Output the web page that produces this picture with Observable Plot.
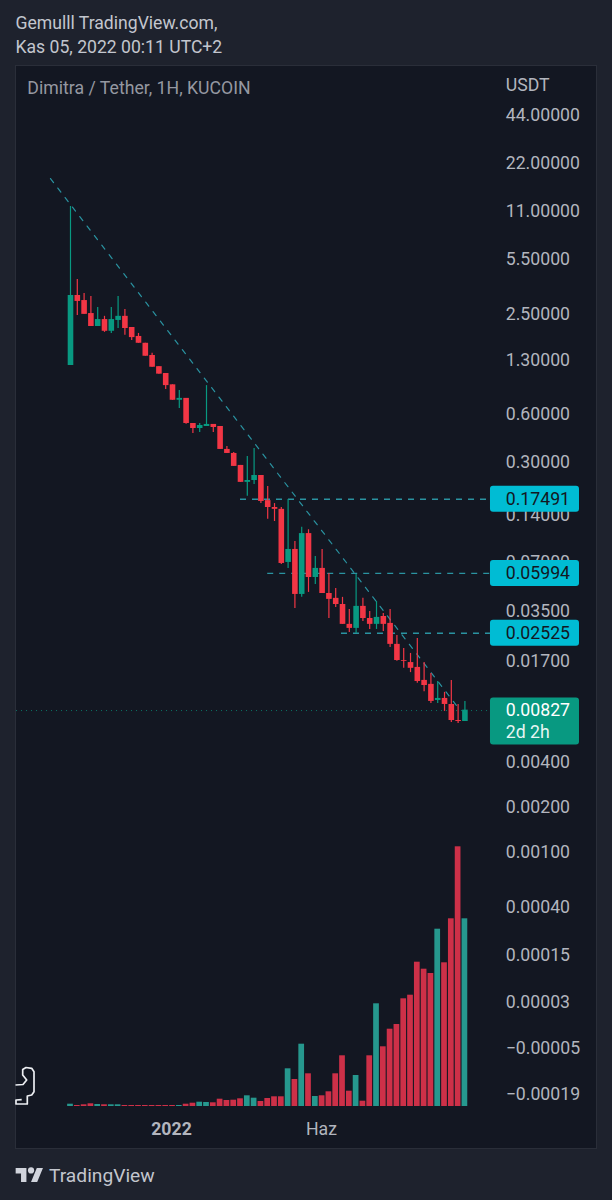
<!DOCTYPE html>
<html><head><meta charset="utf-8">
<script src="https://cdn.jsdelivr.net/npm/d3@7"></script>
<script src="https://cdn.jsdelivr.net/npm/@observablehq/plot@0.6"></script>
<style>
html,body{margin:0;padding:0;background:#1e222d;font-family:Roboto,sans-serif;}
#page{position:relative;width:612px;height:1200px;overflow:hidden;}
#head{height:65px;box-sizing:border-box;padding:11px 0 0 15.5px;color:#c3c6ce;font-size:17.6px;line-height:24px;}
#frame{position:relative;margin-left:15px;width:580px;height:1082px;background:#131722;border:1px solid #2a2e39;}
#frame svg{position:absolute;left:0;top:0;}
#foot{position:absolute;left:15px;top:1165px;display:flex;align-items:center;color:#c3c6ce;font-size:19.2px;height:20px;}
#foot svg{width:29px;height:20px;margin-right:5px;}
#cursor{position:absolute;left:0;top:1060px;}
</style></head><body>
<div id="page">
<div id="head">Gemulll TradingView.com,<br>Kas 05, 2022 00:11 UTC+2</div>
<div id="frame"></div>
<svg id="cursor" width="40" height="50" viewBox="0 1060 40 50"><path d="M15.5 1085 L23 1084.5 L26.7 1080 L22.7 1075 L22.7 1069.5 L26 1067.5 L31.7 1068.3 L34 1071.7 L34 1091.7 L31.7 1095 L27.3 1096 L27.3 1104 L16 1104 L16 1100 L21.7 1099.6" fill="none" stroke="#eceef2" stroke-width="1.7" stroke-linejoin="round"/></svg>
<div id="foot"><svg viewBox="0 0 36 26"><path fill="#d1d4dc" d="M14 22H7V11H0V4h14v18zM28 22h-8l7.5-18h8L28 22z"/><circle fill="#d1d4dc" cx="20" cy="7" r="4"/></svg><span>TradingView</span></div>
</div>
<script>
const opens  = [1.19,3.27,3.04,2.52,2.09,2.31,1.95,2.28,2.42,2.06,1.81,1.64,1.375,1.17,1.06,.90,.72,.74,.515,.479,.493,.508,.493,.354,.334,.281,.22,.226,.243,.169,.153,.149,.0692,.0835,.0436,.105,.0557,.0635,.0442,.0412,.0377,.0283,.0267,.0367,.0308,.0283,.0317,.0287,.0212,.0168,.0163,.0152,.0126,.0119,.00943,.00971,.0089,.00706,.00696];
const highs  = [11.82,4.12,3.37,3.22,2.75,2.42,2.75,3.22,2.67,2.06,1.89,1.64,1.42,1.17,1.06,.90,.83,.74,.515,.515,.89,.508,.493,.37,.339,.281,.32,.359,.243,.207,.162,.153,.172,.0937,.115,.111,.0755,.0835,.059,.0475,.0418,.0351,.0582,.0412,.0341,.0394,.0331,.0351,.0241,.02,.0186,.0231,.0163,.0139,.0124,.0106,.0126,.0089,.0093];
const lows   = [1.19,2.45,2.49,2.09,2.09,1.92,1.89,2.03,1.84,1.71,1.64,1.36,1.16,1.05,.84,.72,.64,.51,.446,.452,.493,.452,.354,.334,.277,.22,.18,.213,.162,.129,.125,.0672,.0635,.0356,.0418,.0449,.0504,.0442,.0308,.0361,.0283,.0252,.0248,.0295,.0263,.0263,.0255,.0203,.0166,.015,.0141,.0121,.0107,.00903,.00903,.00805,.00686,.00677,.00696];
const closes = [3.27,3.0,2.49,2.09,2.31,1.95,2.31,2.42,2.03,1.78,1.64,1.36,1.16,1.05,.89,.72,.74,.515,.479,.50,.508,.486,.354,.334,.277,.22,.226,.243,.167,.153,.149,.0682,.0835,.0436,.105,.0557,.0635,.0442,.0406,.0377,.0283,.0267,.0367,.0308,.0283,.0313,.0283,.0212,.0168,.0166,.015,.0124,.0117,.0093,.00971,.0089,.00706,.00696,.0082];
const volumes = [2.3,1,1.7,2.7,2,1.7,1.7,1.7,1,1,1,1,1,1,1,1,1,2.3,3.3,4.3,4,3.7,7.3,6,6.3,7.7,10.7,8.3,5,8,9.7,9.7,37.7,27,62.3,32.7,10,10.7,14.7,32.7,50.7,15.3,31,5.3,50.7,102.7,59.7,77.3,82,107.7,111.3,144.3,137.3,133,177.3,143.7,187.7,259.7,187.7];

const tickLabels = ["44.00000","22.00000","11.00000","5.50000","2.50000","1.30000","0.60000","0.30000","0.14000","0.07000","0.03500","0.01700","0.00400","0.00200","0.00100","0.00040","0.00015","0.00003","\u22120.00005","\u22120.00019"];
const tickLevels = [44.6,22.3,11.15,5.58,2.54,1.3,0.6,0.3,0.138,0.07,0.0345,0.01675,0.00394,0.00203,0.00107,0.000479,0.00024,0.000123,0.0000625,0.0000322];

const trendX = [-2.94,56.76];
const trendY = [17.7,0.00877];

const levelPrices = [0.17491,0.05994,0.02525];
const levelStarts = [25,29,39.85];
const levelTexts = ["0.17491","0.05994","0.02525"];
const lastPrice = 0.00827;
const lastText = "0.00827";
const countdownText = "2d 2h";
const countdownLevel = 0.00594;
const lastChipLevel = 0.00706;
const boldLabel = {t:"2022",x:14.85};
const plainLabel = {t:"Haz",x:36.9};

const red="#f23645", green="#089981", redVol="#cd3048", greenVol="#26988e", cyan="#00bcd4", dash="#2a93a1";
const candles = opens.map((o,i)=>({i,o,h:highs[i],l:lows[i],c:closes[i],v:volumes[i],up:closes[i]>=o}));
const ticks = tickLabels.map((t,i)=>({t,y:tickLevels[i]}));
const levels = levelPrices.map((y,i)=>({y,s:levelStarts[i],t:levelTexts[i]}));
const trend = trendX.map((x,i)=>({x,y:trendY[i]}));

const W=580,H=1082;
const xScale={domain:[-7.94,77.35],axis:null};
const axisX=64.0, chipL=61.76, chipR=74.85;
const font="Roboto", fs=17.7;
const band=(px)=>2**(px/48); // price ratio of a chip half-height on this log axis

const price=Plot.plot({
  width:W,height:H,marginTop:0,marginBottom:0,marginLeft:0,marginRight:0,
  style:{background:"transparent",fontFamily:font},
  x:xScale,
  y:{type:"log",domain:[1.46e-5,89.3],axis:null},
  marks:[
    Plot.ruleY([lastPrice],{x1:-7.94,x2:chipL,stroke:green,strokeOpacity:0.7,strokeDasharray:"1,4",dy:1}),
    Plot.line(trend,{x:"x",y:"y",stroke:dash,strokeDasharray:"5,7",strokeWidth:1.2}),
    Plot.ruleY(levels,{x1:"s",x2:chipL,y:"y",stroke:dash,strokeWidth:1.3,strokeDasharray:"6,6",dy:1}),
    Plot.ruleX(candles,{x:"i",y1:"l",y2:"h",stroke:d=>d.up?green:red,strokeWidth:1.2}),
    Plot.ruleX(candles,{x:"i",y1:"o",y2:"c",stroke:d=>d.up?green:red,strokeWidth:5.6}),
    Plot.text(ticks,{x:axisX,y:"y",text:"t",textAnchor:"start",fill:"#b2b5be",fontSize:fs,dy:1}),
    Plot.rect(levels,{x1:chipL,x2:chipR,y1:d=>d.y*band(13),y2:d=>d.y/band(13),fill:cyan,rx:3,dy:1}),
    Plot.text(levels,{x:axisX,y:"y",text:"t",textAnchor:"start",fill:"#131722",fontSize:fs,dy:1}),
    Plot.rect([lastChipLevel],{x1:chipL,x2:chipR,y1:d=>d*band(23.5),y2:d=>d/band(23.5),fill:green,rx:3,dy:1}),
    Plot.text([lastText],{x:axisX,y:lastPrice,text:d=>d,textAnchor:"start",fill:"#ffffff",fontSize:fs,dy:1}),
    Plot.text([countdownText],{x:axisX,y:countdownLevel,text:d=>d,textAnchor:"start",fill:"#e6f5f2",fontSize:fs}),
    Plot.text(["USDT"],{x:axisX,y:67.8,text:d=>d,textAnchor:"start",fill:"#b2b5be",fontSize:fs}),
    Plot.text(["Dimitra / Tether, 1H, KUCOIN"],{x:-6.35,y:65,text:d=>d,textAnchor:"start",fill:"#9598a1",fontSize:fs})
  ]
});
const volume=Plot.plot({
  width:W,height:H,marginTop:0,marginBottom:42,marginLeft:0,marginRight:0,
  style:{background:"transparent",fontFamily:font},
  x:xScale,
  y:{domain:[0,1040],axis:null},
  marks:[
    Plot.rectY(candles,{x1:d=>d.i-0.42,x2:d=>d.i+0.42,y:"v",fill:d=>d.up?greenVol:redVol}),
    Plot.text([boldLabel],{x:"x",y:-23,text:"t",fill:"#b2b5be",fontSize:fs,fontWeight:700,clip:false}),
    Plot.text([plainLabel],{x:"x",y:-23,text:"t",fill:"#b2b5be",fontSize:fs,clip:false})
  ]
});
document.getElementById("frame").append(price,volume);
</script>
</body></html>
